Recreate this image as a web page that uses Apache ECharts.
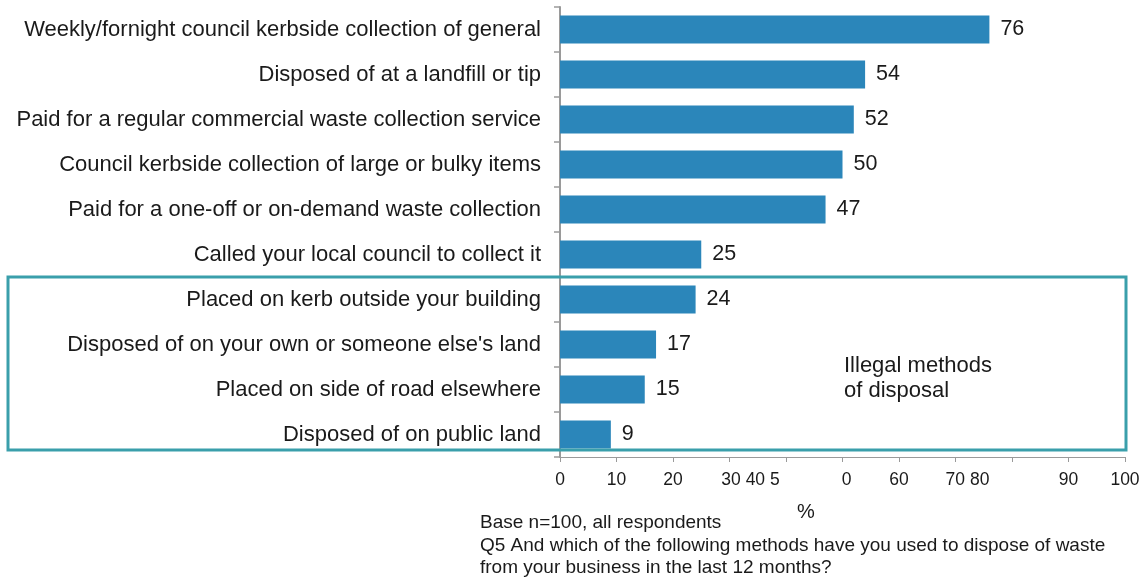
<!DOCTYPE html>
<html>
<head>
<meta charset="utf-8">
<script src="https://cdn.jsdelivr.net/npm/echarts@6/dist/echarts.min.js"></script>
<style>
    html, body { margin: 0; padding: 0; background: #fff; }
    #chart { width: 1145px; height: 583px; }
</style>
</head>
<body>
<div id="chart"></div>
<script>
"use strict";

const methods = [
    'Weekly/fornight council kerbside collection of general',
    'Disposed of at a landfill or tip',
    'Paid for a regular commercial waste collection service',
    'Council kerbside collection of large or bulky items',
    'Paid for a one-off or on-demand waste collection',
    'Called your local council to collect it',
    'Placed on kerb outside your building',
    'Disposed of on your own or someone else\'s land',
    'Placed on side of road elsewhere',
    'Disposed of on public land'
];
const percents = [76, 54, 52, 50, 47, 25, 24, 17, 15, 9];

// tick labels as printed in the source (they overlap oddly there)
const tickValues = [0, 10, 20, 30, 40, 50, 60, 70, 80, 90, 100];
const tickLabels = ['0', '10', '20', '30 40 5', '', '0', '60', '70 80', '', '90', '100'];
const tickShift = { 30: 'a', 70: 'b', 50: 'c' };

const footnote = [
    'Base n=100, all respondents',
    'Q5 And which of the following methods have you used to dispose of waste',
    'from your business in the last 12 months?'
];

const chartDom = document.getElementById('chart');
const myChart = echarts.init(chartDom, null, { renderer: 'canvas' });

const fontFamily = 'Liberation Sans, Arial, sans-serif';
const textColor = '#1a1a1a';
const axisGrey = '#9a9a9a';
const boxColor = '#3a9fab';

const tickRich = pad => ({ fontSize: 17.5, color: textColor, fontFamily: fontFamily, padding: [0, 0, 0, pad] });

const option = {
    animation: false,
    textStyle: { fontFamily: fontFamily },
    grid: {
        left: 560,
        right: 20,
        top: 7,
        bottom: 126,
        containLabel: false
    },
    xAxis: {
        type: 'value',
        min: 0,
        max: 100,
        interval: 10,
        splitLine: { show: false },
        axisLine: { show: true, lineStyle: { color: axisGrey, width: 1 } },
        axisTick: { show: true, length: 5, lineStyle: { color: axisGrey } },
        axisLabel: {
            margin: 14,
            fontSize: 17.5,
            color: textColor,
            fontFamily: fontFamily,
            formatter: function (v) {
                const i = tickValues.indexOf(v);
                const txt = i >= 0 ? tickLabels[i] : '';
                if (!txt) return '';
                const s = tickShift[v];
                return s ? '{' + s + '|' + txt + '}' : txt;
            },
            rich: {
                a: tickRich(42),
                b: tickRich(24),
                c: tickRich(8)
            }
        }
    },
    yAxis: {
        type: 'category',
        inverse: true,
        data: methods,
        axisLine: { show: true, lineStyle: { color: axisGrey, width: 2 } },
        axisTick: { show: true, length: 6, lineStyle: { color: axisGrey, width: 1.5 } },
        axisLabel: {
            margin: 19,
            fontSize: 22,
            color: textColor,
            fontFamily: fontFamily
        }
    },
    series: [
        {
            type: 'bar',
            data: percents,
            barWidth: 28,
            itemStyle: { color: '#2b86ba' },
            label: {
                show: true,
                position: 'right',
                distance: 11,
                fontSize: 21.5,
                color: textColor,
                fontFamily: fontFamily
            }
        }
    ],
    graphic: [
        {
            type: 'rect',
            shape: { x: 8, y: 277, width: 1118, height: 173 },
            style: { fill: 'none', stroke: boxColor, lineWidth: 3 },
            z: 10
        },
        {
            type: 'text',
            left: 844,
            top: 353,
            style: {
                text: 'Illegal methods\nof disposal',
                font: '22px ' + fontFamily,
                fill: textColor,
                lineHeight: 25
            }
        },
        {
            type: 'text',
            left: 797,
            top: 502,
            style: { text: '%', font: '20px ' + fontFamily, fill: textColor }
        },
        {
            type: 'text',
            left: 480,
            top: 512,
            style: {
                text: footnote.join('\n'),
                font: '19px ' + fontFamily,
                fill: textColor,
                lineHeight: 22.5
            }
        }
    ]
};

option && myChart.setOption(option);
</script>
</body>
</html>
